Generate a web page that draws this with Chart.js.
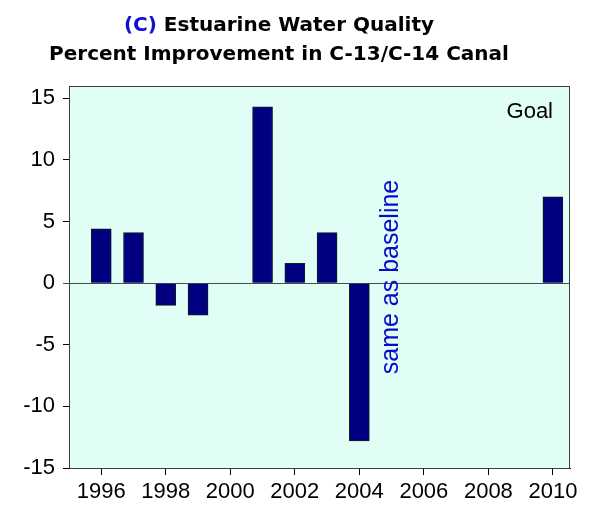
<!DOCTYPE html>
<html>
<head>
<meta charset="utf-8">
<script src="https://cdn.jsdelivr.net/npm/chart.js@4"></script>
<style>
  html, body { margin: 0; padding: 0; background: #fff; }
  #wrap { width: 590px; height: 512px; position: relative; }
</style>
</head>
<body>
<div id="wrap"><canvas id="chart" width="590" height="512"></canvas></div>
<script>
  // ── Data ────────────────────────────────────────────────
  var years    = [1996, 1997, 1998, 1999, 2001, 2002, 2003, 2004, 2010];
  var improve  = [4.4, 4.1, -1.8, -2.6, 14.3, 1.6, 4.1, -12.8, 7.0];
  var xTicks   = [1996, 1998, 2000, 2002, 2004, 2006, 2008, 2010];
  var yTicks   = [-15, -10, -5, 0, 5, 10, 15];
  var titleLine1 = ['(C)', ' Estuarine Water Quality'];
  var titleLine2 = 'Percent Improvement in C-13/C-14 Canal';
  var noteYear = 2005;
  var noteText = 'same as baseline';
  var goalText = 'Goal';

  var FONT = '"Liberation Sans", Arial, sans-serif';

  // ── Plot background + frame ─────────────────────────────
  var plotFrame = {
    id: 'plotFrame',
    beforeDatasetsDraw: function (chart) {
      var a = chart.chartArea, ctx = chart.ctx;
      ctx.save();
      ctx.fillStyle = '#e0fdf6';
      ctx.fillRect(a.left, a.top, a.right - a.left, a.bottom - a.top);
      ctx.strokeStyle = '#3c3c3c';
      ctx.lineWidth = 1;
      ctx.strokeRect(a.left + 0.5, a.top + 0.5, a.right - a.left - 1, a.bottom - a.top);
      // zero line
      var y0 = Math.round(chart.scales.y.getPixelForValue(0)) + 0.5;
      ctx.strokeStyle = '#4a4a4a';
      ctx.beginPath();
      ctx.moveTo(a.left - 6, y0);
      ctx.lineTo(a.right, y0);
      ctx.stroke();
      ctx.restore();
    }
  };

  // ── Titles and notes ────────────────────────────────────
  var textBits = {
    id: 'textBits',
    afterDraw: function (chart) {
      var ctx = chart.ctx;
      var cx = 279;
      ctx.save();
      ctx.textBaseline = 'alphabetic';
      ctx.font = 'bold 20px "DejaVu Sans", sans-serif';

      // line 1, two colours
      var w1 = ctx.measureText(titleLine1[0]).width;
      var w2 = ctx.measureText(titleLine1[1]).width;
      var x = cx - (w1 + w2) / 2;
      ctx.textAlign = 'left';
      ctx.fillStyle = '#1010d0';
      ctx.fillText(titleLine1[0], x, 31);
      ctx.fillStyle = '#000';
      ctx.fillText(titleLine1[1], x + w1, 31);

      // line 2
      ctx.textAlign = 'center';
      ctx.fillText(titleLine2, cx, 60);

      // goal label
      ctx.font = '22px ' + FONT;
      ctx.textAlign = 'right';
      ctx.fillStyle = '#000';
      ctx.fillText(goalText, 553, 118);

      // rotated note
      var xs = chart.scales.x, ys = chart.scales.y;
      ctx.translate(xs.getPixelForValue(noteYear), ys.getPixelForValue(0.5));
      ctx.rotate(-Math.PI / 2);
      ctx.textAlign = 'center';
      ctx.textBaseline = 'middle';
      ctx.font = '25px ' + FONT;
      ctx.fillStyle = '#0a0ac8';
      ctx.fillText(noteText, 0, 0);
      ctx.restore();
    }
  };

  var points = years.map(function (yr, i) { return { x: yr, y: improve[i] }; });

  new Chart(document.getElementById('chart'), {
    type: 'bar',
    data: {
      datasets: [{
        data: points,
        backgroundColor: '#000080',
        borderColor: '#1a1a1a',
        borderWidth: 1,
        barThickness: 20
      }]
    },
    plugins: [plotFrame, textBits],
    options: {
      responsive: false,
      animation: false,
      layout: { padding: { top: 86, right: 20, left: 0, bottom: 0 } },
      plugins: {
        legend: { display: false },
        title: { display: false },
        tooltip: { enabled: false }
      },
      scales: {
        x: {
          type: 'linear',
          offset: false,
          min: 1995,
          max: 2010.53,
          afterBuildTicks: function (s) {
            s.ticks = xTicks.map(function (v) { return { value: v }; });
          },
          afterFit: function (s) { s.height = 44; },
          border: { color: '#000', width: 1 },
          grid: { offset: false, drawOnChartArea: false, drawTicks: true, tickLength: 7, tickColor: '#000' },
          ticks: {
            color: '#000',
            font: { family: FONT, size: 22 },
            padding: 4,
            maxRotation: 0,
            autoSkip: false,
            callback: function (v) { return String(v); }
          }
        },
        y: {
          min: -15,
          max: 16,
          afterBuildTicks: function (s) {
            s.ticks = yTicks.map(function (v) { return { value: v }; });
          },
          afterFit: function (s) { s.width = 69; },
          border: { color: '#000', width: 1 },
          grid: { drawOnChartArea: false, drawTicks: true, tickLength: 6, tickColor: '#000' },
          ticks: {
            color: '#000',
            font: { family: FONT, size: 22 },
            padding: 8
          }
        }
      }
    }
  });
</script>
</body>
</html>
